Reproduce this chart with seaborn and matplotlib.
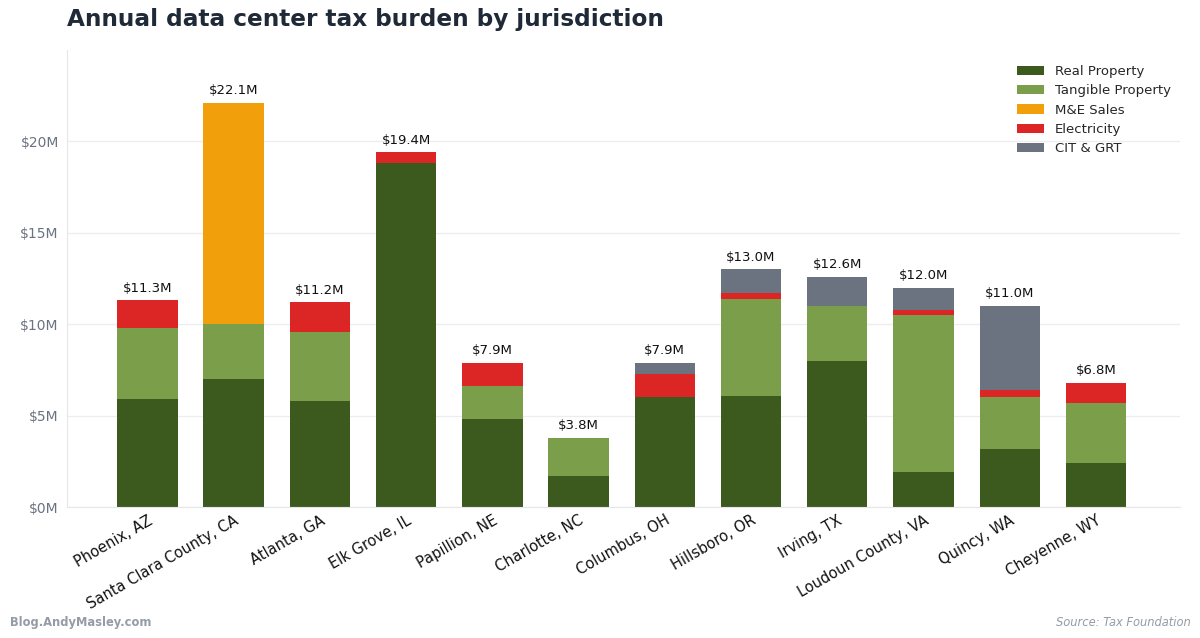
import numpy as np
import pandas as pd
import matplotlib.pyplot as plt
import seaborn as sns

cities = ["Phoenix, AZ", "Santa Clara County, CA", "Atlanta, GA", "Elk Grove, IL",
          "Papillion, NE", "Charlotte, NC", "Columbus, OH", "Hillsboro, OR",
          "Irving, TX", "Loudoun County, VA", "Quincy, WA", "Cheyenne, WY"]
real_property = [5.9, 7.0, 5.8, 18.8, 4.8, 1.7, 6.0, 6.1, 8.0, 1.9, 3.2, 2.4]
tangible_property = [3.9, 3.0, 3.8, 0.0, 1.8, 2.1, 0.0, 5.3, 3.0, 8.6, 2.8, 3.3]
me_sales = [0.0, 12.1, 0.0, 0.0, 0.0, 0.0, 0.0, 0.0, 0.0, 0.0, 0.0, 0.0]
electricity = [1.5, 0.0, 1.6, 0.6, 1.3, 0.0, 1.3, 0.3, 0.0, 0.3, 0.4, 1.1]
cit_grt = [0.0, 0.0, 0.0, 0.0, 0.0, 0.0, 0.6, 1.3, 1.6, 1.2, 4.6, 0.0]
totals = [11.3, 22.1, 11.2, 19.4, 7.9, 3.8, 7.9, 13.0, 12.6, 12.0, 11.0, 6.8]

layers = ["Real Property", "Tangible Property", "M&E Sales", "Electricity", "CIT & GRT"]
colors = ["#3d5a1e", "#7a9e4a", "#f29f0c", "#dc2626", "#6b7280"]

df = pd.DataFrame({"city": cities, "Real Property": real_property,
                   "Tangible Property": tangible_property, "M&E Sales": me_sales,
                   "Electricity": electricity, "CIT & GRT": cit_grt})
cum = df[layers].cumsum(axis=1)

sns.set_style("white")
plt.rcParams["font.family"] = ["DejaVu Sans"]

fig = plt.figure(figsize=(12, 6.38), dpi=100)
ax = fig.add_axes([0.056, 0.205, 0.927, 0.717])

# draw cumulative heights from the top layer down so lower layers sit on top
for name, color in reversed(list(zip(layers, colors))):
    sns.barplot(x=df["city"], y=cum[name], color=color, width=0.7,
                saturation=1, label=name, ax=ax, zorder=2,
                edgecolor="none", linewidth=0)

for i, t in enumerate(totals):
    ax.annotate(f"${t:.1f}M", (i, t), xytext=(0, 4), textcoords="offset points",
                ha="center", va="bottom", fontsize=9.5, color="#111111")

ax.set_ylim(0, 25)
ax.set_xlim(-0.93, 11.97)
ax.set_yticks([0, 5, 10, 15, 20])
ax.set_yticklabels([f"${v}M" for v in [0, 5, 10, 15, 20]])
ax.set_xlabel("")
ax.set_ylabel("")
ax.yaxis.grid(True, color="#ebedf0", linewidth=0.9, zorder=0)
ax.set_axisbelow(True)
ax.tick_params(axis="y", labelsize=10, labelcolor="#6b7280", length=0, pad=6)
ax.tick_params(axis="x", labelsize=10.5, labelcolor="#111111", length=0, pad=4)
plt.setp(ax.get_xticklabels(), rotation=30, ha="right", rotation_mode="anchor")
for s in ["top", "right"]:
    ax.spines[s].set_visible(False)
for s in ["left", "bottom"]:
    ax.spines[s].set_color("#e5e7eb")

handles, labels = ax.get_legend_handles_labels()
order = [labels.index(n) for n in layers]
ax.legend([handles[i] for i in order], layers, loc="upper right", frameon=False,
          fontsize=9.5, handlelength=2.0, handleheight=0.7, labelspacing=0.48,
          handletextpad=0.85, bbox_to_anchor=(1.003, 0.993))

fig.text(0.056, 0.97, "Annual data center tax burden by jurisdiction",
         fontsize=16.7, fontweight="bold", color="#1f2937", va="center")
fig.text(0.008, 0.025, "Blog.AndyMasley.com", fontsize=8.3, fontweight="bold",
         color="#959ca6", va="center")
fig.text(0.992, 0.025, "Source: Tax Foundation", fontsize=8.3, style="italic",
         color="#959ca6", va="center", ha="right")

fig.savefig("out.png", dpi=100)
